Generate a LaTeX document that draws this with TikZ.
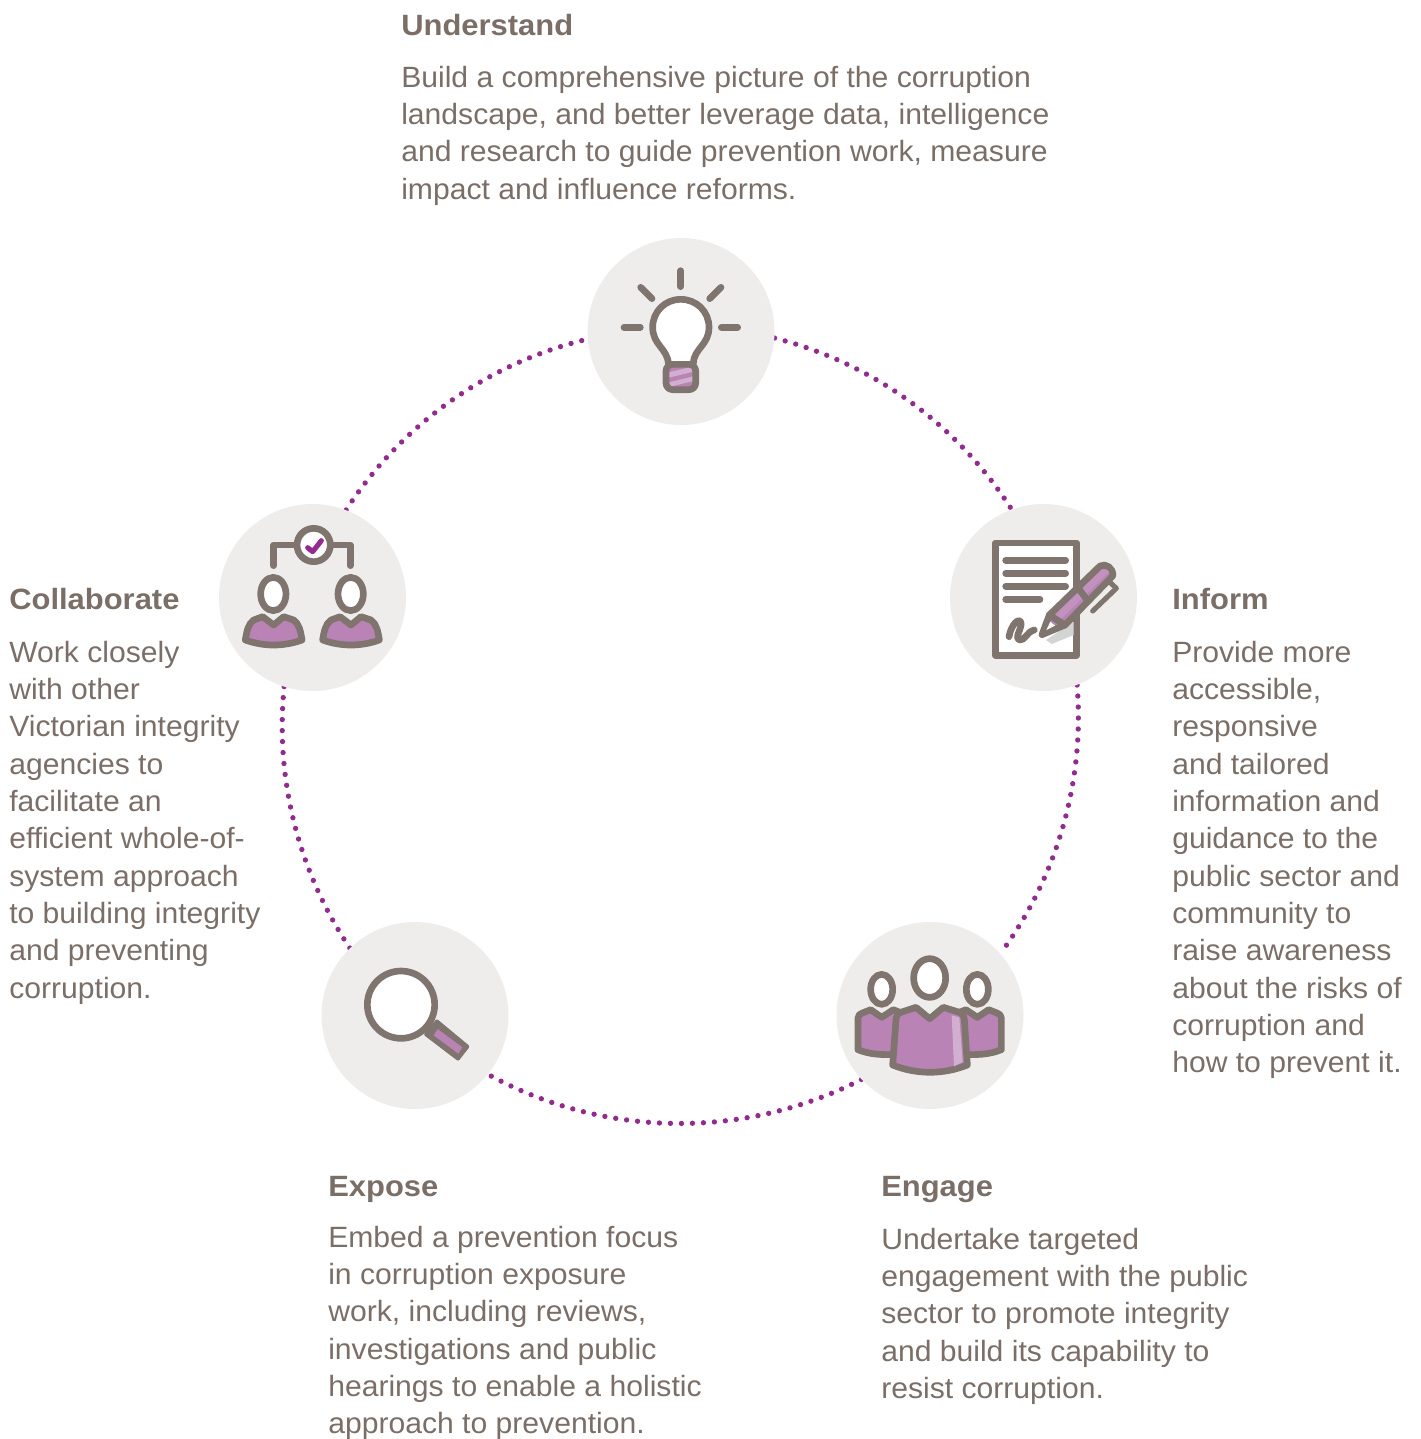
\documentclass[tikz,border=0pt]{standalone}
\usepackage{fontspec}
\setmainfont[FakeStretch=1.027,BoldFeatures={FakeStretch=1.055}]{Liberation Sans}
\usetikzlibrary{backgrounds}
\definecolor{txt}{HTML}{7A6E67}
\definecolor{ink}{HTML}{7F746E}
\definecolor{discc}{HTML}{EEEDEC}
\definecolor{dotc}{HTML}{922B8E}
\definecolor{pur}{HTML}{B983B6}
\definecolor{purl}{HTML}{D2AED0}
\newcommand{\fl}{\rule{0pt}{20pt}}
\tikzset{
  disc/.style={circle,fill=discc,minimum size=140.25pt,inner sep=0pt},
  ringdots/.style={dotc,line width=4pt,line cap=round,dash pattern=on 0pt off 8.25pt},
  head/.style={anchor=north west,inner sep=0pt,text=txt,font=\fontsize{22}{28}\selectfont\bfseries},
  body/.style={anchor=north west,inner sep=0pt,text=txt,align=left,font=\fontsize{22}{28}\selectfont},
  icon/.style={draw=ink,line width=5pt,line join=round,line cap=round},
  iconbase/.style={x=0.25pt,y=-0.25pt},
}
\begin{document}
\begin{tikzpicture}[x=0.75pt,y=-0.75pt]
\useasboundingbox (0,0) rectangle (1421,1439);
\node[disc] (U) at (681,331.5) {};
\node[disc] (I) at (1043.5,597.5) {};
\node[disc] (E) at (930,1015.5) {};
\node[disc] (X) at (415,1015.5) {};
\node[disc] (C) at (312.5,597.5) {};
\begin{pgfonlayer}{background}
\draw[ringdots] (U.-4) arc[start angle=-75.7,end angle=-31,radius=398];
\draw[ringdots] (I.-69) arc[start angle=-4.6,end angle=35.3,radius=398];
\draw[ringdots] (E.223) arc[start angle=62.8,end angle=118.6,radius=398];
\draw[ringdots] (X.134.6) arc[start angle=146.1,end angle=187,radius=398];
\draw[ringdots] (C.69) arc[start angle=212.9,end angle=256.4,radius=398];
\end{pgfonlayer}
% bulb
\begin{scope}[shift={(580,230)},iconbase]
\draw[icon] (302,122)--(302,170);
\draw[icon] (182,172)--(216,206);
\draw[icon] (423,172)--(389,206);
\draw[icon] (132,292)--(181,292);
\draw[icon] (424,292)--(473,292);
\draw[icon,fill=white] (265,400) .. controls (262,355) and (218,345) .. (218,292) .. controls (218,245) and (255,208) .. (302,208) .. controls (350,208) and (387,245) .. (387,292) .. controls (387,345) and (342,355) .. (340,400);
\fill[pur] (258,403) rectangle (347,479);
\fill[purl] (262,428)--(345,408)--(345,424)--(262,444)--cycle;
\fill[purl] (262,458)--(345,438)--(345,452)--(262,472)--cycle;
\draw[icon,rounded corners=5pt] (258,403) rectangle (347,479);
\end{scope}
% form and pen
\begin{scope}[shift={(945,500)},iconbase]
\draw[icon,fill=white] (151,129) rectangle (395,466);
\fill[black!17] (386,365)--(386,405)--(320,432)--(303,420)--cycle;
\draw[icon] (182,181)--(362,181);
\draw[icon] (182,220)--(362,220);
\draw[icon] (182,259)--(362,259);
\draw[icon] (182,298)--(285,298);
\draw[icon] (192,410) .. controls (198,375) and (222,350) .. (228,368) .. controls (232,385) and (205,415) .. (225,420) .. controls (240,422) and (245,395) .. (268,390);
\draw[icon,fill=pur] (291,404)--(313,345)--(465,198) .. controls (482,188) and (507,205) .. (503,228)--(360,375)--cycle;
\fill[purl!35!pur] (330,345)--(470,210) .. controls (478,205) and (490,210) .. (492,216)--(345,360)--cycle;
\draw[icon] (398,262)--(425,298);
\draw[icon] (313,345)--(360,375);
\fill[white] (304,390)--(316,365)--(330,377)--cycle;
\draw[icon,line width=3.8pt] (443,333)--(514,265)--(496,248);
\end{scope}
% people
\begin{scope}[shift={(830,918)},iconbase]
\draw[icon,fill=white] (155,214) ellipse[x radius=33,y radius=45];
\draw[icon,fill=white] (442,214) ellipse[x radius=33,y radius=45];
\draw[icon,fill=pur] (84,395)--(84,300) .. controls (84,292) and (90,287) .. (97,285)--(122,275)--(155,298)--(190,275)--(215,285)--(215,408) .. controls (160,412) and (120,410) .. (84,395)--cycle;
\draw[icon,fill=pur] (514,395)--(514,300) .. controls (514,292) and (508,287) .. (501,285)--(476,275)--(442,298)--(408,275)--(383,285)--(383,408) .. controls (438,412) and (478,410) .. (514,395)--cycle;
\draw[icon,fill=white] (299,180) ellipse[x radius=48,y radius=58];
\draw[icon,fill=pur] (188,441)--(198,305) .. controls (199,292) and (205,285) .. (215,282)--(258,268)--(299,302)--(340,268)--(385,282) .. controls (395,285) and (402,292) .. (403,305)--(412,441) .. controls (340,470) and (260,470) .. (188,441)--cycle;
\fill[purl] (365,292)--(388,298)--(398,432)--(372,445)--cycle;
\end{scope}
% magnifier
\begin{scope}[shift={(315,918)},iconbase]
\fill[ink,rounded corners=1.5pt] (365,302)--(465,385)--(430,430)--(325,350)--cycle;
\fill[pur] (368,333)--(442,388)--(430,407)--(356,352)--cycle;
\draw[icon,fill=white] (258,260) circle[radius=101];
\end{scope}
% collaborate
\begin{scope}[shift={(212,500)},iconbase]
\draw[icon] (185,197)--(185,135)--(415,135)--(415,197);
\draw[icon,fill=white] (305,135) circle[radius=50];
\draw[dotc,line width=3.8pt,line cap=round,line join=round] (287,143)--(302,155)--(328,122);
\foreach \dx in {0,232}{
\begin{scope}[xshift=\dx*0.25pt]
\draw[icon,fill=white] (184,282) ellipse[x radius=38,y radius=50];
\draw[icon,fill=pur] (100,420) .. controls (104,395) and (108,372) .. (125,360)--(152,350)--(185,375)--(215,350)--(245,360) .. controls (262,372) and (266,395) .. (270,420) .. controls (215,440) and (155,440) .. (100,420)--cycle;
\end{scope}}
\end{scope}
% texts
\node[head] (uh) at (401,35-20/0.75) {\fl Understand};
\node[body] (ub) at (401,87-20/0.75) {\fl Build a comprehensive picture of the corruption\\landscape, and better leverage data, intelligence\\and research to guide prevention work, measure\\impact and influence reforms.};
\node[head] (ih) at (1172,609-20/0.75) {\fl Inform};
\node[body] (ib) at (1172,662-20/0.75) {\fl Provide more\\accessible,\\responsive\\and tailored\\information and\\guidance to the\\public sector and\\community to\\raise awareness\\about the risks of\\corruption and\\how to prevent it.};
\node[head] (ch) at (9,609-20/0.75) {\fl Collaborate};
\node[body] (cb) at (9,662-20/0.75) {\fl Work closely\\with other\\Victorian integrity\\agencies to\\facilitate an\\efficient whole-of-\\system approach\\to building integrity\\and preventing\\corruption.};
\node[head] (xh) at (328,1196-20/0.75) {\fl Expose};
\node[body] (xb) at (328,1247-20/0.75) {\fl Embed a prevention focus\\in corruption exposure\\work, including reviews,\\investigations and public\\hearings to enable a holistic\\approach to prevention.};
\node[head] (eh) at (881,1196-20/0.75) {\fl Engage};
\node[body] (eb) at (881,1249-20/0.75) {\fl Undertake targeted\\engagement with the public\\sector to promote integrity\\and build its capability to\\resist corruption.};
\end{tikzpicture}
\end{document}
